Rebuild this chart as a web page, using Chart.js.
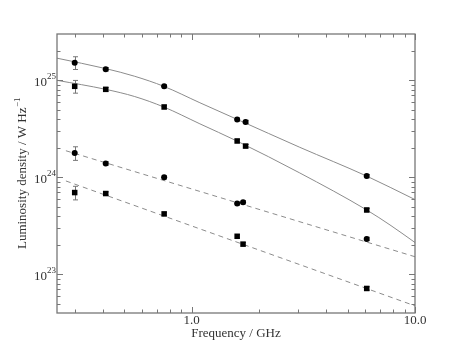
<!DOCTYPE html>
<html>
<head>
<meta charset="utf-8">
<script src="https://cdn.jsdelivr.net/npm/chart.js@4.4.1/dist/chart.umd.min.js"></script>
<style>
  html, body { margin: 0; padding: 0; background: #fff; }
  canvas { display: block; }
</style>
</head>
<body>
<canvas id="chart" width="461" height="348"></canvas>
<script>
// observed frequencies (GHz)
const freqSolid = [0.30, 0.413, 0.754, 1.60, 1.745, 6.08];
const freqDashed = [0.30, 0.413, 0.754, 1.60, 1.70, 6.08];

// luminosity densities (W / Hz)
const lumCircleSolid = [1.52e25, 1.30e25, 8.67e24, 3.94e24, 3.72e24, 1.03e24];
const lumSquareSolid = [8.67e24, 8.07e24, 5.31e24, 2.37e24, 2.10e24, 4.61e23];
const lumCircleDashed = [1.78e24, 1.39e24, 1.00e24, 5.37e23, 5.54e23, 2.32e23];
const lumSquareDashed = [6.97e23, 6.81e23, 4.20e23, 2.47e23, 2.05e23, 7.16e22];

// relative errors (fraction of value)
const errCircleSolid = [0.15, 0.04, 0.04, 0.04, 0.04, 0.04];
const errSquareSolid = [0.15, 0.04, 0.04, 0.04, 0.04, 0.04];
const errCircleDashed = [0.16, 0.04, 0.04, 0.04, 0.04, 0.04];
const errSquareDashed = [0.16, 0.04, 0.04, 0.04, 0.04, 0.04];

// model curves
const modelFreqUpper = [0.25, 0.413, 0.557, 0.751, 1.09, 1.595, 3.05, 6.08, 10];
const modelUpper = [1.69e25, 1.32e25, 1.10e25, 8.67e24, 5.87e24, 3.97e24, 2.04e24, 1.03e24, 5.90e23];
const modelFreqLower = [0.25, 0.413, 0.557, 0.751, 1.09, 1.595, 3.05, 6.08, 7.81, 10];
const modelLower = [1.00e25, 8.07e24, 6.80e24, 5.31e24, 3.56e24, 2.37e24, 1.11e24, 4.61e23, 3.18e23, 2.13e23];
const modelFreqDashed = [0.274, 10];
const modelDashedUpper = [1.88e24, 1.52e23];
const modelDashedLower = [9.18e23, 4.74e22];

// axis ticks
const xMajorTicks = [1, 10];
const xTickLabels = ["1.0", "10.0"];
const xMinorTicks = [0.3, 0.4, 0.5, 0.6, 0.7, 0.8, 0.9, 2, 3, 4, 5, 6, 7, 8, 9];
const yMajorTicks = [1e23, 1e24, 1e25];
const yTickExponents = ["23", "24", "25"];
const yMinorTicks = [5e22, 6e22, 7e22, 8e22, 9e22,
  2e23, 3e23, 4e23, 5e23, 6e23, 7e23, 8e23, 9e23,
  2e24, 3e24, 4e24, 5e24, 6e24, 7e24, 8e24, 9e24, 2e25];

const toPoints = (xs, ys) => xs.map((x, i) => ({ x: x, y: ys[i] }));

const lineColor = "#8c8c8c";
const axisColor = "#777";
const textColor = "#333";
const serif = "'Liberation Serif', 'DejaVu Serif', serif";

const markerSet = (data, style, errs) => ({
  data: data,
  errs: errs,
  showLine: false,
  pointStyle: style,
  pointRadius: style === "rect" ? 3.9 : 3,
  backgroundColor: "#000",
  borderColor: "#000",
  borderWidth: 0,
  order: 0,
});

const modelSet = (data, dashed) => ({
  data: data,
  showLine: true,
  pointRadius: 0,
  borderColor: lineColor,
  borderWidth: 1,
  borderDash: dashed ? [5, 4] : [],
  cubicInterpolationMode: "monotone",
  fill: false,
  order: 1,
});

// error bars under the markers
const errorBars = {
  id: "errorBars",
  beforeDatasetsDraw(chart) {
    const { ctx, scales: { x, y } } = chart;
    ctx.save();
    ctx.strokeStyle = "#777";
    ctx.lineWidth = 1;
    chart.data.datasets.forEach((ds) => {
      if (!ds.errs) return;
      ds.data.forEach((p, i) => {
        const px = Math.round(x.getPixelForValue(p.x)) + 0.5;
        const top = y.getPixelForValue(p.y * (1 + ds.errs[i]));
        const bot = y.getPixelForValue(p.y * (1 - ds.errs[i]));
        ctx.beginPath();
        ctx.moveTo(px, top);
        ctx.lineTo(px, bot);
        ctx.moveTo(px - 2.5, top);
        ctx.lineTo(px + 2.5, top);
        ctx.moveTo(px - 2.5, bot);
        ctx.lineTo(px + 2.5, bot);
        ctx.stroke();
      });
    });
    ctx.restore();
  },
};

// frame, inward ticks and all axis text
const frame = {
  id: "frame",
  afterDraw(chart) {
    const { ctx, chartArea: a, scales: { x, y } } = chart;
    ctx.save();
    ctx.strokeStyle = axisColor;
    ctx.lineWidth = 1;
    ctx.beginPath();
    const xTick = (v, len) => {
      const px = Math.round(x.getPixelForValue(v)) + 0.5;
      ctx.moveTo(px, a.bottom); ctx.lineTo(px, a.bottom - len);
      ctx.moveTo(px, a.top); ctx.lineTo(px, a.top + len);
    };
    const yTick = (v, len) => {
      const py = Math.round(y.getPixelForValue(v)) + 0.5;
      ctx.moveTo(a.left, py); ctx.lineTo(a.left + len, py);
      ctx.moveTo(a.right, py); ctx.lineTo(a.right - len, py);
    };
    xMajorTicks.forEach((v) => xTick(v, 6));
    xMinorTicks.forEach((v) => xTick(v, 3.5));
    yMajorTicks.forEach((v) => yTick(v, 6));
    yMinorTicks.forEach((v) => yTick(v, 3.5));
    ctx.stroke();

    ctx.lineWidth = 1.3;
    ctx.strokeRect(a.left, a.top, a.right - a.left, a.bottom - a.top);

    ctx.fillStyle = textColor;
    // x tick labels
    ctx.font = "13px " + serif;
    ctx.textAlign = "center";
    ctx.textBaseline = "alphabetic";
    xMajorTicks.forEach((v, i) => {
      ctx.fillText(xTickLabels[i], x.getPixelForValue(v), a.bottom + 11);
    });
    // y tick labels with superscript exponent
    yMajorTicks.forEach((v, i) => {
      const py = y.getPixelForValue(v);
      ctx.font = "9px " + serif;
      const ew = ctx.measureText(yTickExponents[i]).width;
      ctx.textAlign = "right";
      ctx.fillText(yTickExponents[i], a.left - 1, py - 1);
      ctx.font = "13px " + serif;
      ctx.fillText("10", a.left - 1 - ew, py + 5.5);
    });

    // axis titles
    ctx.font = "13px " + serif;
    ctx.textAlign = "center";
    ctx.fillText("Frequency / GHz", (a.left + a.right) / 2, 337);

    ctx.translate(26, (a.top + a.bottom) / 2);
    ctx.rotate(-Math.PI / 2);
    const main = "Luminosity density / W Hz";
    const sup = "\u22121";
    ctx.font = "13px " + serif;
    const mw = ctx.measureText(main).width;
    ctx.font = "9px " + serif;
    const sw = ctx.measureText(sup).width;
    const start = -(mw + sw) / 2;
    ctx.textAlign = "left";
    ctx.font = "13px " + serif;
    ctx.fillText(main, start, 0);
    ctx.font = "9px " + serif;
    ctx.fillText(sup, start + mw + 0.5, -6.5);
    ctx.restore();
  },
};

new Chart(document.getElementById("chart"), {
  type: "scatter",
  data: {
    datasets: [
      markerSet(toPoints(freqSolid, lumCircleSolid), "circle", errCircleSolid),
      markerSet(toPoints(freqSolid, lumSquareSolid), "rect", errSquareSolid),
      markerSet(toPoints(freqDashed, lumCircleDashed), "circle", errCircleDashed),
      markerSet(toPoints(freqDashed, lumSquareDashed), "rect", errSquareDashed),
      modelSet(toPoints(modelFreqUpper, modelUpper), false),
      modelSet(toPoints(modelFreqLower, modelLower), false),
      modelSet(toPoints(modelFreqDashed, modelDashedUpper), true),
      modelSet(toPoints(modelFreqDashed, modelDashedLower), true),
    ],
  },
  options: {
    responsive: false,
    animation: false,
    layout: { padding: { left: 57, right: 46, top: 34, bottom: 35 } },
    plugins: { legend: { display: false }, tooltip: { enabled: false } },
    scales: {
      x: { type: "logarithmic", min: 0.25, max: 10, display: false },
      y: { type: "logarithmic", min: 4e22, max: 3e25, display: false },
    },
  },
  plugins: [errorBars, frame],
});
</script>
</body>
</html>
